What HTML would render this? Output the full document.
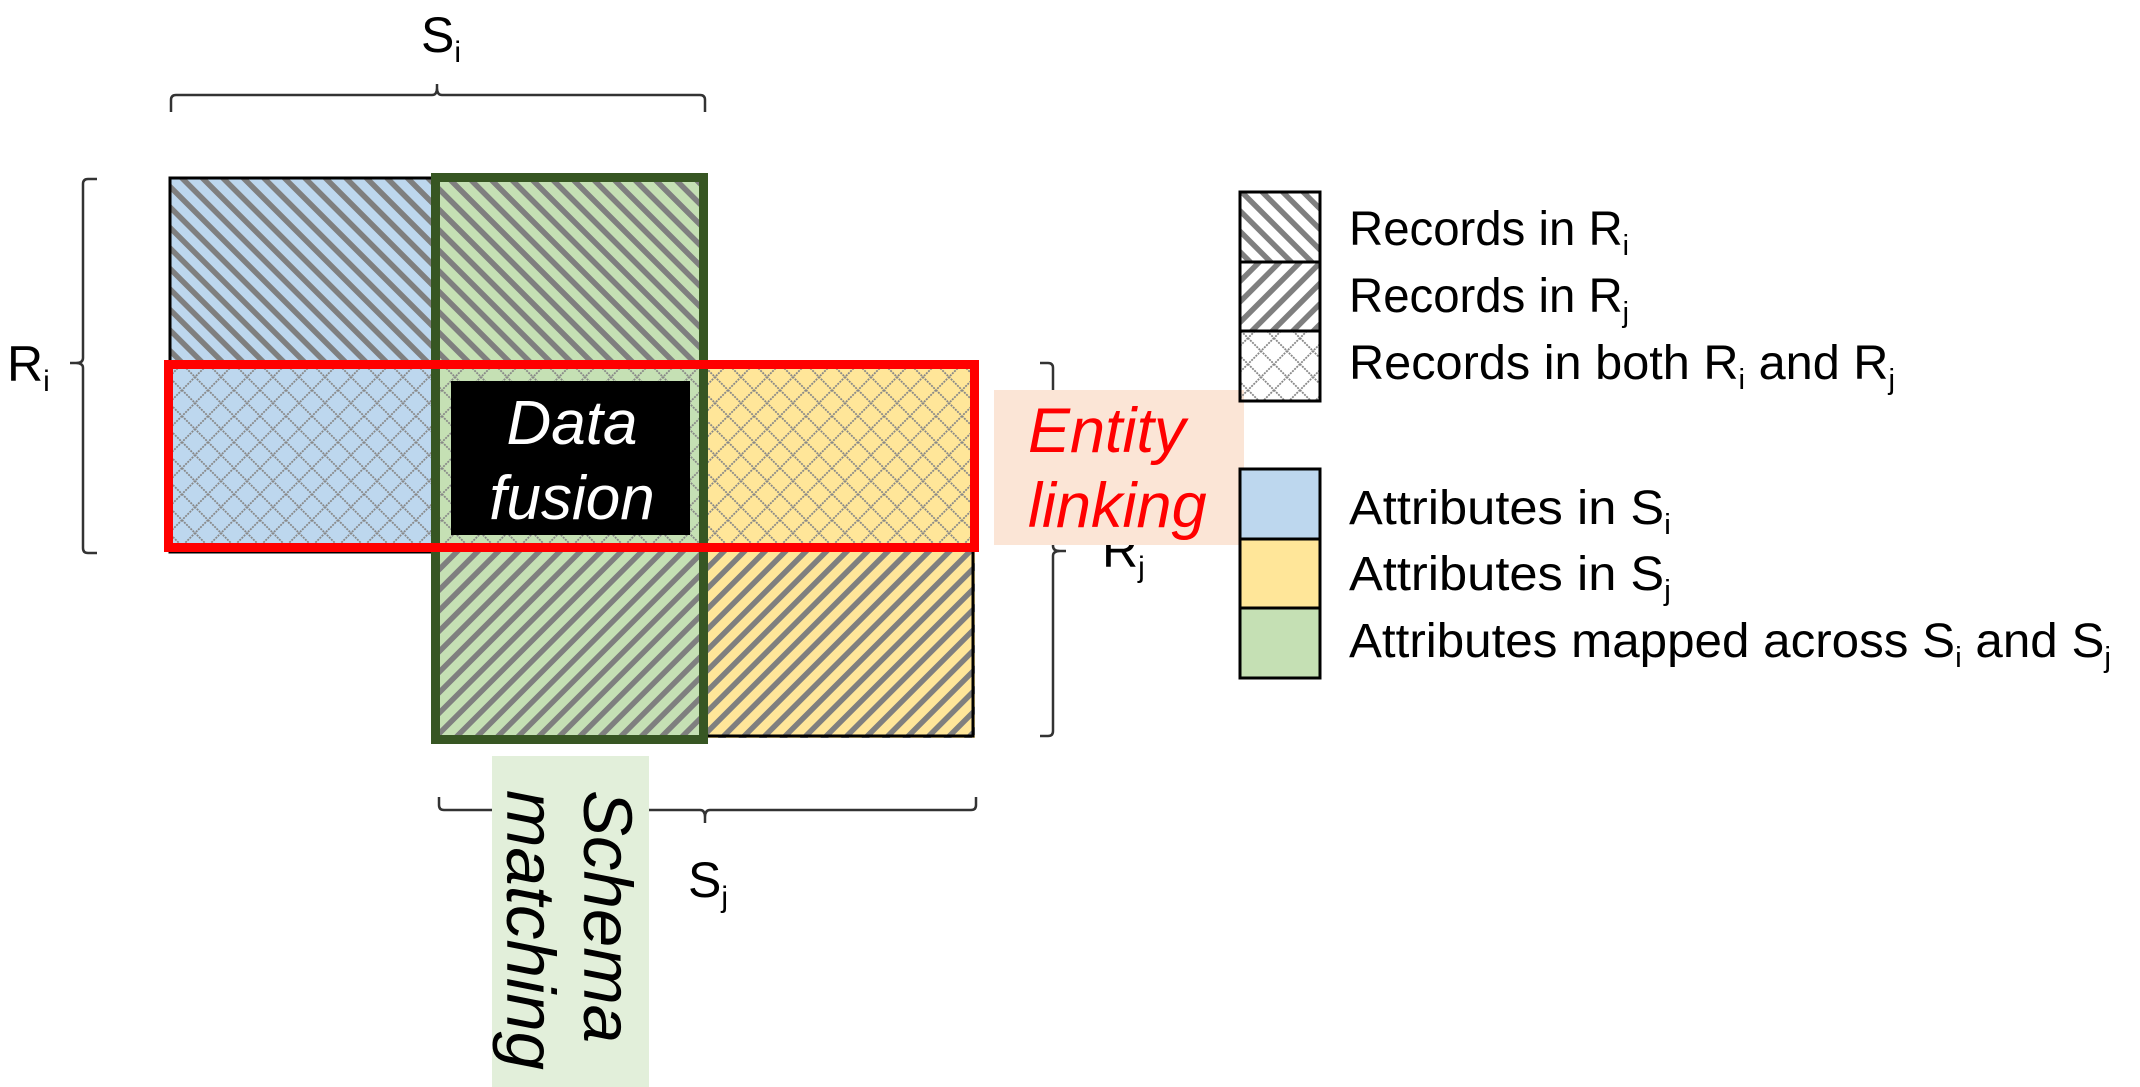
<!DOCTYPE html>
<html><head><meta charset="utf-8"><style>
html,body{margin:0;padding:0;background:#fff;}
svg{display:block;}
text{font-family:"Liberation Sans Narrow","Liberation Sans",sans-serif;}
.it{font-family:"Liberation Sans",sans-serif;font-style:italic;}
</style></head><body>
<svg width="2140" height="1087" viewBox="0 0 2140 1087" xmlns="http://www.w3.org/2000/svg">
<defs>
<pattern id="ri" patternUnits="userSpaceOnUse" width="14.5" height="14.5" patternTransform="rotate(-45)">
<rect x="0" y="0" width="5.5" height="14.5" fill="#7f7f7f"/>
</pattern>
<pattern id="rj" patternUnits="userSpaceOnUse" width="14.5" height="14.5" patternTransform="rotate(45)">
<rect x="0" y="0" width="5.5" height="14.5" fill="#7f7f7f"/>
</pattern>
<pattern id="x" patternUnits="userSpaceOnUse" width="26" height="26">
<path d="M0 0L26 26M26 0L0 26" stroke="#888" stroke-width="1.8" stroke-dasharray="2 1"/>
</pattern>
</defs>

<rect x="170" y="178" width="265" height="374" fill="#bdd7ee"/>
<rect x="435" y="176" width="270" height="566" fill="#c5e0b4"/>
<rect x="705" y="362" width="270" height="376" fill="#ffe699"/>
<rect x="170" y="178" width="535" height="187" fill="url(#ri)"/>
<rect x="170" y="365" width="805" height="183" fill="url(#x)"/>
<rect x="435" y="548" width="540" height="190" fill="url(#rj)"/>
<rect x="170" y="178" width="265" height="374" fill="none" stroke="#000" stroke-width="3"/>
<rect x="705" y="362" width="268" height="374" fill="none" stroke="#000" stroke-width="3"/>
<rect x="435.5" y="177.5" width="268" height="562" fill="none" stroke="#375623" stroke-width="9"/>
<rect x="168.5" y="364.5" width="806" height="183" fill="none" stroke="#ff0000" stroke-width="9"/>

<rect x="451" y="381" width="239" height="154" fill="#000"/>
<text x="572" y="444" class="it" font-size="62" fill="#fff" text-anchor="middle">Data</text>
<text x="572" y="519" class="it" font-size="62" fill="#fff" text-anchor="middle">fusion</text>

<g fill="none" stroke="#333" stroke-width="2.5">
<path d="M171 112 L171 100 Q171 95 176 95 L432 95 Q437 95 437 88 L437 84 M437 88 Q437 95 442 95 L700 95 Q705 95 705 100 L705 112"/>
<path d="M97 179 L88 179 Q83 179 83 184 L83 358 Q83 363 76 363 L70 363 M76 363 Q83 363 83 368 L83 548 Q83 553 88 553 L97 553"/>
<path d="M1040 363 L1048 363 Q1053 363 1053 368 L1053 546 Q1053 551 1060 551 L1066 551 M1060 551 Q1053 551 1053 556 L1053 731 Q1053 736 1048 736 L1040 736"/>
<path d="M439 797 L439 805 Q439 810 444 810 L700 810 Q705 810 705 817 L705 823 M705 817 Q705 810 710 810 L971 810 Q976 810 976 805 L976 797"/>
</g>

<text x="421" y="52" font-size="50" fill="#000">S<tspan font-size="30" dy="10">i</tspan></text>
<text x="7" y="381" font-size="50" fill="#000">R<tspan font-size="30" dy="10">i</tspan></text>
<text x="1102" y="567" font-size="50" fill="#000">R<tspan font-size="30" dy="10">j</tspan></text>
<text x="688" y="897" font-size="50" fill="#000">S<tspan font-size="30" dy="10">j</tspan></text>

<rect x="994" y="390" width="250" height="155" fill="#fbe5d6"/>
<text x="1028" y="452" class="it" font-size="63" fill="#ff0000">Entity</text>
<text x="1028" y="527" class="it" font-size="63" fill="#ff0000">linking</text>

<rect x="492" y="756" width="157" height="331" fill="#e2efda"/>
<text transform="translate(584,790) rotate(90)" class="it" font-size="69" fill="#000">Schema</text>
<text transform="translate(507,790) rotate(90)" class="it" font-size="69" fill="#000">matching</text>

<rect x="1240" y="192" width="80" height="70" fill="#fff"/>
<rect x="1240" y="192" width="80" height="70" fill="url(#ri)"/>
<rect x="1240" y="262" width="80" height="69" fill="url(#rj)"/>
<rect x="1240" y="331" width="80" height="70" fill="url(#x)"/>
<g fill="none" stroke="#000" stroke-width="3">
<rect x="1240" y="192" width="80" height="70"/>
<rect x="1240" y="262" width="80" height="69"/>
<rect x="1240" y="331" width="80" height="70"/>
</g>
<rect x="1240" y="469" width="80" height="70" fill="#bdd7ee" stroke="#000" stroke-width="3"/>
<rect x="1240" y="539" width="80" height="69" fill="#ffe699" stroke="#000" stroke-width="3"/>
<rect x="1240" y="608" width="80" height="70" fill="#c5e0b4" stroke="#000" stroke-width="3"/>

<g font-size="48" fill="#000">
<text x="1349" y="245" textLength="280" lengthAdjust="spacingAndGlyphs">Records in R<tspan font-size="29" dy="10">i</tspan></text>
<text x="1349" y="312" textLength="280" lengthAdjust="spacingAndGlyphs">Records in R<tspan font-size="29" dy="10">j</tspan></text>
<text x="1349" y="379" textLength="546" lengthAdjust="spacingAndGlyphs">Records in both R<tspan font-size="29" dy="10">i</tspan><tspan dy="-10"> and R</tspan><tspan font-size="29" dy="10">j</tspan></text>
<text x="1349" y="524" textLength="322" lengthAdjust="spacingAndGlyphs">Attributes in S<tspan font-size="29" dy="10">i</tspan></text>
<text x="1349" y="590" textLength="322" lengthAdjust="spacingAndGlyphs">Attributes in S<tspan font-size="29" dy="10">j</tspan></text>
<text x="1349" y="657" textLength="762" lengthAdjust="spacingAndGlyphs">Attributes mapped across S<tspan font-size="29" dy="10">i</tspan><tspan dy="-10"> and S</tspan><tspan font-size="29" dy="10">j</tspan></text>
</g>
</svg>
</body></html>
